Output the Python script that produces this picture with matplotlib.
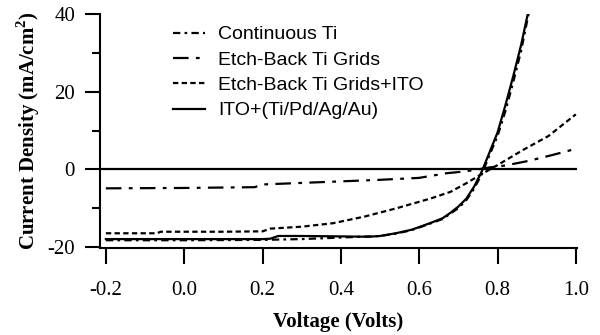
import matplotlib
matplotlib.use("Agg")
import matplotlib.pyplot as plt
from matplotlib.ticker import MultipleLocator, FormatStrFormatter

# ---------------- DATA ----------------
cont_v = [-0.2, 0.0, 0.2, 0.3, 0.4, 0.45, 0.5, 0.54, 0.58, 0.62, 0.66, 0.70,
          0.72, 0.74, 0.76, 0.78, 0.80, 0.82, 0.84, 0.86, 0.88]
cont_j = [-18.3, -18.3, -18.2, -18.0, -17.6, -17.4, -17.2, -16.6, -15.7, -14.3,
          -12.8, -10.0, -8.0, -5.0, -1.2, 3.8, 8.6, 15.0, 22.5, 30.5, 40.5]

grid_v = [-0.2, 0.0, 0.18, 0.2, 0.3, 0.4, 0.5, 0.6, 0.67, 0.72, 0.75, 0.78,
          0.82, 0.88, 0.94, 1.0]
grid_j = [-4.9, -4.8, -4.6, -3.9, -3.5, -3.1, -2.7, -2.2, -1.0, -0.5, 0.0, 0.5,
          1.0, 2.2, 3.7, 5.3]

gito_v = [-0.2, -0.07, -0.06, 0.0, 0.1, 0.2, 0.22, 0.3, 0.38, 0.46, 0.54, 0.63,
          0.68, 0.72, 0.76, 0.80, 0.865, 0.93, 1.0]
gito_j = [-16.5, -16.5, -16.1, -16.1, -16.1, -16.0, -15.3, -14.8, -13.9, -12.2,
          -10.1, -7.5, -5.8, -3.6, -1.2, 1.1, 5.0, 8.6, 14.2]

ito_v = [-0.2, -0.1, 0.0, 0.1, 0.2, 0.22, 0.24, 0.3, 0.4, 0.47, 0.5, 0.54, 0.58,
         0.6, 0.63, 0.66, 0.68, 0.70, 0.72, 0.74, 0.76, 0.78, 0.80, 0.82, 0.84,
         0.86, 0.877]
ito_j = [-18.0, -18.0, -18.0, -18.0, -18.0, -17.9, -17.2, -17.2, -17.3, -17.4,
         -17.2, -16.5, -15.6, -14.9, -13.8, -12.6, -11.2, -9.6, -7.6, -4.5, -0.5,
         4.5, 9.5, 16.5, 24.0, 32.0, 40.0]

labels = ["Continuous Ti", "Etch-Back Ti Grids", "Etch-Back Ti Grids+ITO",
          "ITO+(Ti/Pd/Ag/Au)"]
x_ticks = [-0.2, 0.0, 0.2, 0.4, 0.6, 0.8, 1.0]
y_ticks = [-20, 0, 20, 40]
# --------------------------------------

plt.rcParams["axes.unicode_minus"] = False
plt.rcParams["mathtext.fontset"] = "custom"
plt.rcParams["mathtext.rm"] = "Liberation Serif"
plt.rcParams["mathtext.bf"] = "Liberation Serif:bold"

fig = plt.figure(figsize=(6, 3.35), dpi=100)
ax = fig.add_axes([0.1667, 0.2597, 0.795, 0.6985])

lw = 1.6
ax.axhline(0, color="black", lw=lw)
ax.plot(cont_v, cont_j, color="black", lw=lw, dashes=(3.3, 1.9, 1.2, 1.9), label=labels[0])
ax.plot(grid_v, grid_j, color="black", lw=lw, dashes=(7.0, 3.3, 1.7, 3.3), label=labels[1])
ax.plot(gito_v, gito_j, color="black", lw=lw, dashes=(2.4, 1.5), label=labels[2])
ax.plot(ito_v, ito_j, color="black", lw=lw, label=labels[3])

ax.set_xlim(-0.215, 1.003)
ax.set_ylim(-20.3, 40.1)

for s in ["top", "right"]:
    ax.spines[s].set_visible(False)
for s in ["left", "bottom"]:
    ax.spines[s].set_linewidth(1.5)

ax.set_xticks(x_ticks)
ax.set_yticks(y_ticks)
ax.yaxis.set_minor_locator(MultipleLocator(10))
ax.xaxis.set_major_formatter(FormatStrFormatter("%.1f"))
ax.tick_params(axis="x", direction="out", length=11.5, width=1.5, pad=12)
ax.tick_params(axis="y", which="major", direction="out", length=11, width=1.5, pad=7)
ax.tick_params(axis="y", which="minor", direction="out", length=6, width=1.5)
for t in ax.get_xticklabels() + ax.get_yticklabels():
    t.set_fontfamily("Liberation Serif")
    t.set_fontsize(15)

ax.set_xlabel("Voltage (Volts)", fontfamily="Liberation Serif", fontweight="bold",
              fontsize=15, labelpad=9)
ax.set_ylabel(r"Current Density (mA/cm$^{\mathbf{2}}$)", fontfamily="Liberation Serif",
              fontweight="bold", fontsize=15, labelpad=4)

ax.legend(loc="upper left", bbox_to_anchor=(0.153, 0.95), frameon=False,
          borderpad=0, borderaxespad=0, handlelength=1.65, handletextpad=0.67,
          labelspacing=0.4, prop={"family": "Liberation Sans", "size": 14})

fig.savefig("out.png", dpi=100)
